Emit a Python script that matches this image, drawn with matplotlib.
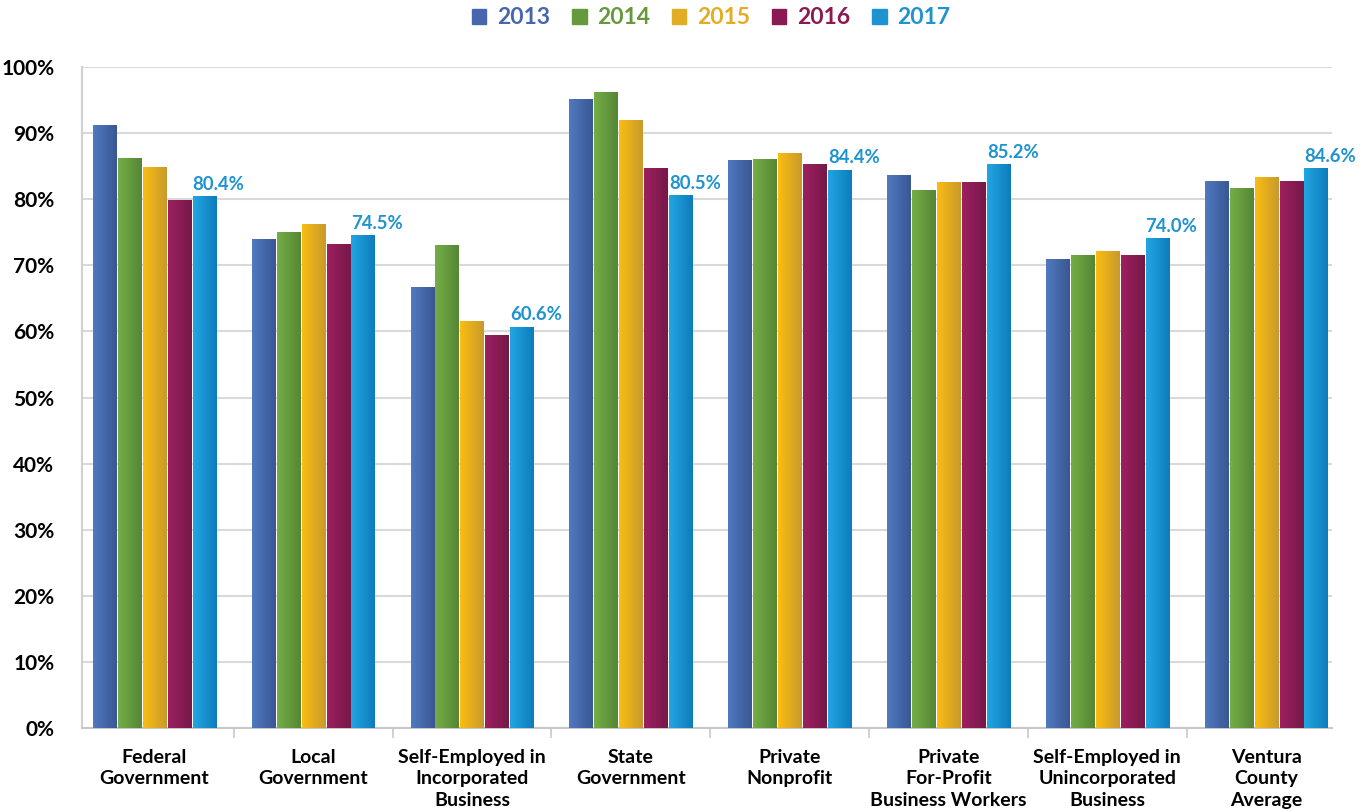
import numpy as np
import matplotlib.pyplot as plt
from matplotlib.colors import LinearSegmentedColormap

plt.rcParams['font.family'] = ['Lato', 'DejaVu Sans']

categories = [
    "Federal\nGovernment",
    "Local\nGovernment",
    "Self-Employed in\nIncorporated\nBusiness",
    "State\nGovernment",
    "Private\nNonprofit",
    "Private\nFor-Profit\nBusiness Workers",
    "Self-Employed in\nUnincorporated\nBusiness",
    "Ventura\nCounty\nAverage",
]
years = ["2013", "2014", "2015", "2016", "2017"]

v2013 = [91.1, 73.9, 66.6, 95.1, 85.8, 83.6, 70.9, 82.7]
v2014 = [86.1, 74.9, 73.0, 96.1, 86.0, 81.3, 71.5, 81.6]
v2015 = [84.8, 76.2, 61.5, 91.9, 86.9, 82.5, 72.1, 83.3]
v2016 = [79.8, 73.1, 59.4, 84.6, 85.2, 82.5, 71.5, 82.7]
v2017 = [80.4, 74.5, 60.6, 80.5, 84.4, 85.2, 74.0, 84.6]
series = [v2013, v2014, v2015, v2016, v2017]

# (legend / flat colour, gradient light, gradient dark)
colours = [
    ("#4766AE", "#5079C0", "#3A5793"),
    ("#66993C", "#74AE46", "#568636"),
    ("#E2AD24", "#FBBD12", "#C79A2C"),
    ("#8C1A52", "#9C2060", "#761848"),
    ("#1E93D1", "#22A6E2", "#0E7CBC"),
]

fig = plt.figure(figsize=(13.72, 8.11), dpi=100)
ax = fig.add_axes([82 / 1372, 1 - 728 / 811, 1250 / 1372, 661 / 811])

x = np.arange(len(categories))
step = 0.157
width = 0.145
offsets = (np.arange(5) - 2) * step

# bars are drawn as invisible rectangles, then filled with a left-to-right gradient
for i, (vals, (flat, light, dark)) in enumerate(zip(series, colours)):
    bars = ax.bar(x + offsets[i], vals, width, color="none", edgecolor="none", zorder=3)
    cmap = LinearSegmentedColormap.from_list(f"g{i}", [light, dark])
    grad = np.linspace(0, 1, 64).reshape(1, -1)
    for b in bars:
        bx, bw, bh = b.get_x(), b.get_width(), b.get_height()
        ax.imshow(grad, cmap=cmap, extent=[bx, bx + bw, 0, bh], aspect="auto",
                  origin="lower", zorder=3, interpolation="bilinear")

# data labels on 2017 bars
for xi, val in zip(x + offsets[4], v2017):
    ax.annotate(f"{val:.1f}%", (xi - width / 2, val), xytext=(0, 5),
                textcoords="offset points", ha="left", va="baseline",
                fontsize=13.3, fontweight="bold", color="#1E93D1", zorder=4)

ax.set_xlim(-0.455, 7.415)
ax.set_ylim(0, 100)
ax.set_yticks(np.arange(0, 101, 10))
ax.set_yticklabels([f"{t}%" for t in range(0, 101, 10)])
ax.grid(axis="y", color="#D9D9D9", linewidth=1.5, zorder=0)
ax.set_axisbelow(True)

ax.set_xticks(x)
ax.set_xticklabels(categories, fontsize=14, fontweight="bold", linespacing=1.32)
ax.set_xticks(np.arange(0.5, 7.5, 1), minor=True)
ax.tick_params(axis="x", which="major", length=0, pad=15)
ax.tick_params(axis="x", which="minor", length=7, width=1.2, color="#C8C8C8")
ax.tick_params(axis="y", length=0, pad=20, labelsize=15)
for lbl in ax.get_yticklabels():
    lbl.set_fontweight("bold")

for s in ["top", "right"]:
    ax.spines[s].set_visible(False)
ax.spines["left"].set_color("#D0D0D0")
ax.spines["left"].set_linewidth(1.5)
ax.spines["bottom"].set_color("#C8C8C8")
ax.spines["bottom"].set_linewidth(1.5)

handles = [plt.Rectangle((0, 0), 1, 1, color=c[0]) for c in colours]
leg = fig.legend(handles, years, loc="center", bbox_to_anchor=(0.518, 1 - 18 / 811),
                 ncol=5, frameon=False, handlelength=0.65, handleheight=0.65,
                 handletextpad=0.45, columnspacing=0.95,
                 prop={"size": 16.5, "weight": "bold"})
for txt, c in zip(leg.get_texts(), colours):
    txt.set_color(c[0])

fig.savefig("out.png", dpi=100)
